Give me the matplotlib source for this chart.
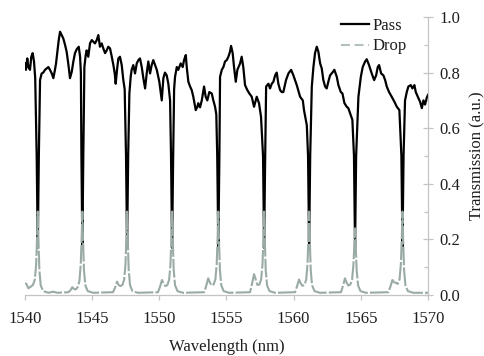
import matplotlib
matplotlib.use("Agg")
import matplotlib.pyplot as plt
from matplotlib.ticker import MultipleLocator
from matplotlib.lines import Line2D

plt.rcParams['font.family'] = ['Liberation Serif', 'DejaVu Serif']

# ---- Pass (through-port) spectrum ----
pass_wl = [
    1540.00, 1540.07, 1540.17, 1540.25, 1540.37, 1540.47, 1540.57, 1540.67, 1540.76,
    1540.87, 1540.95, 1541.03,
    1541.12, 1541.24, 1541.36, 1541.49, 1541.61, 1541.74, 1541.86, 1541.99, 1542.11,
    1542.23, 1542.31, 1542.41, 1542.51, 1542.61, 1542.73, 1542.85, 1542.98, 1543.10,
    1543.22, 1543.35, 1543.48, 1543.60, 1543.72, 1543.85, 1544.00, 1544.10, 1544.16,
    1544.20, 1544.27, 1544.34,
    1544.42, 1544.52, 1544.59, 1544.71, 1544.84, 1544.97, 1545.09, 1545.21, 1545.34,
    1545.46, 1545.58, 1545.71, 1545.83, 1545.96, 1546.08, 1546.20, 1546.33, 1546.46,
    1546.58, 1546.68, 1546.75, 1546.85, 1546.95, 1547.07, 1547.20, 1547.32, 1547.42,
    1547.52, 1547.60, 1547.68,
    1547.77, 1547.87, 1547.94, 1548.06, 1548.19, 1548.32, 1548.44, 1548.56, 1548.69,
    1548.81, 1548.94, 1549.06, 1549.18, 1549.31, 1549.43, 1549.55, 1549.68, 1549.81,
    1549.90, 1550.00, 1550.18, 1550.30, 1550.42, 1550.55, 1550.67, 1550.80,
    1550.87, 1550.95, 1551.03,
    1551.10, 1551.17, 1551.30, 1551.41, 1551.59, 1551.74, 1551.84, 1551.97, 1552.04,
    1552.16, 1552.29, 1552.41, 1552.53, 1552.71, 1552.83, 1552.90, 1553.03, 1553.16,
    1553.33, 1553.45, 1553.57, 1553.72, 1553.90, 1554.02, 1554.15, 1554.24,
    1554.31, 1554.39, 1554.47,
    1554.52, 1554.65, 1554.77, 1554.89, 1555.02, 1555.14, 1555.26, 1555.34, 1555.46,
    1555.56, 1555.69, 1555.81, 1556.01, 1556.13, 1556.25, 1556.38, 1556.55, 1556.70,
    1556.88, 1557.05, 1557.25, 1557.42, 1557.57,
    1557.72, 1557.80, 1557.88,
    1557.95, 1558.12, 1558.24, 1558.37, 1558.49, 1558.62, 1558.74, 1558.86, 1558.99,
    1559.11, 1559.23, 1559.43, 1559.61, 1559.81, 1559.98, 1560.23, 1560.48, 1560.68,
    1560.77, 1560.98,
    1561.07, 1561.15, 1561.23,
    1561.35, 1561.47, 1561.59, 1561.72, 1561.84, 1561.97, 1562.09, 1562.21, 1562.34,
    1562.46, 1562.58, 1562.71, 1562.88, 1563.03, 1563.21, 1563.33, 1563.51, 1563.63,
    1563.78, 1563.95, 1564.07, 1564.20, 1564.37,
    1564.49, 1564.57, 1564.65,
    1564.82, 1565.00, 1565.14, 1565.32, 1565.44, 1565.61, 1565.81, 1565.99, 1566.14,
    1566.26, 1566.36, 1566.51, 1566.68, 1566.81, 1566.93, 1567.10, 1567.30, 1567.50,
    1567.68, 1567.87,
    1568.02, 1568.10, 1568.18,
    1568.29, 1568.42, 1568.54, 1568.72, 1568.84, 1568.99, 1569.09, 1569.24, 1569.41,
    1569.54, 1569.66, 1569.78, 1569.91, 1570.00,
]
pass_tr = [
    0.833, 0.810, 0.851, 0.820, 0.810, 0.857, 0.870, 0.840, 0.780,
    0.500, 0.170, 0.500,
    0.773, 0.797, 0.800, 0.810, 0.815, 0.820, 0.810, 0.797, 0.780,
    0.810, 0.833, 0.875, 0.917, 0.947, 0.935, 0.923, 0.900, 0.875,
    0.833, 0.780, 0.803, 0.840, 0.870, 0.884, 0.893, 0.857, 0.800,
    0.500, 0.170, 0.500,
    0.820, 0.863, 0.880, 0.857, 0.905, 0.917, 0.911, 0.905, 0.917,
    0.935, 0.893, 0.905, 0.887, 0.870, 0.880, 0.893, 0.887, 0.857,
    0.827, 0.797, 0.760, 0.810, 0.851, 0.857, 0.827, 0.773, 0.740,
    0.500, 0.170, 0.500,
    0.725, 0.786, 0.810, 0.827, 0.797, 0.833, 0.845, 0.851, 0.820,
    0.780, 0.743, 0.797, 0.840, 0.797, 0.827, 0.845, 0.827, 0.810,
    0.790, 0.767, 0.700, 0.780, 0.800, 0.790, 0.760, 0.700,
    0.500, 0.170, 0.500,
    0.740, 0.785, 0.820, 0.810, 0.833, 0.820, 0.845, 0.863, 0.820,
    0.767, 0.750, 0.737, 0.713, 0.665, 0.677, 0.690, 0.675, 0.700,
    0.750, 0.713, 0.700, 0.730, 0.725, 0.700, 0.677, 0.650,
    0.500, 0.170, 0.500,
    0.785, 0.810, 0.820, 0.840, 0.845, 0.857, 0.875, 0.896, 0.870,
    0.820, 0.767, 0.810, 0.833, 0.857, 0.820, 0.755, 0.737, 0.725,
    0.713, 0.677, 0.713, 0.690, 0.641,
    0.500, 0.170, 0.500,
    0.750, 0.760, 0.743, 0.760, 0.767, 0.790, 0.800, 0.760, 0.737,
    0.730, 0.730, 0.773, 0.797, 0.810, 0.790, 0.755, 0.713, 0.700,
    0.665, 0.610,
    0.500, 0.170, 0.500,
    0.750, 0.820, 0.870, 0.893, 0.875, 0.833, 0.815, 0.773, 0.750,
    0.743, 0.767, 0.790, 0.800, 0.810, 0.785, 0.755, 0.730, 0.725,
    0.690, 0.677, 0.672, 0.654, 0.630,
    0.500, 0.170, 0.500,
    0.713, 0.785, 0.820, 0.840, 0.848, 0.827, 0.797, 0.773, 0.790,
    0.820, 0.827, 0.797, 0.790, 0.773, 0.750, 0.730, 0.713, 0.695,
    0.677, 0.665,
    0.500, 0.170, 0.500,
    0.700, 0.730, 0.750, 0.755, 0.743, 0.755, 0.730, 0.713, 0.695,
    0.672, 0.700, 0.685, 0.710, 0.720,
]

# ---- Drop-port spectrum ----
drop_wl = [
    1540.00, 1540.10, 1540.25, 1540.43, 1540.59, 1540.73, 1540.83, 1540.90, 1540.95,
    1541.00, 1541.07, 1541.17, 1541.35, 1541.75, 1542.10, 1542.40,
    1543.22, 1543.37, 1543.52, 1543.64, 1543.77, 1543.92, 1544.05, 1544.15, 1544.22,
    1544.27, 1544.32, 1544.39, 1544.49, 1544.67, 1545.07, 1545.90,
    1546.55, 1546.70, 1546.85, 1546.97, 1547.10, 1547.25, 1547.38, 1547.48, 1547.55,
    1547.60, 1547.65, 1547.72, 1547.82, 1548.00, 1548.40, 1549.20,
    1549.90, 1550.05, 1550.20, 1550.32, 1550.45, 1550.60, 1550.73, 1550.83, 1550.90,
    1550.95, 1551.00, 1551.07, 1551.17, 1551.35, 1551.75, 1552.60,
    1553.34, 1553.49, 1553.64, 1553.76, 1553.89, 1554.04, 1554.17, 1554.27, 1554.34,
    1554.39, 1554.44, 1554.51, 1554.61, 1554.79, 1555.19, 1556.00,
    1556.75, 1556.90, 1557.05, 1557.17, 1557.30, 1557.45, 1557.58, 1557.68, 1557.75,
    1557.80, 1557.85, 1557.92, 1558.02, 1558.20, 1558.60, 1559.40,
    1560.10, 1560.25, 1560.40, 1560.52, 1560.65, 1560.80, 1560.93, 1561.03, 1561.10,
    1561.15, 1561.20, 1561.27, 1561.37, 1561.55, 1561.95, 1562.80,
    1563.52, 1563.67, 1563.82, 1563.94, 1564.07, 1564.22, 1564.35, 1564.45, 1564.52,
    1564.57, 1564.62, 1564.69, 1564.79, 1564.97, 1565.37, 1566.20,
    1567.05, 1567.20, 1567.35, 1567.47, 1567.60, 1567.75, 1567.88, 1567.98, 1568.05,
    1568.10, 1568.15, 1568.22, 1568.32, 1568.50, 1568.90, 1569.50, 1570.00,
]
drop_tr = [
    0.043, 0.040, 0.024, 0.030, 0.036, 0.055, 0.110, 0.210, 0.300,
    0.200, 0.090, 0.035, 0.014, 0.008, 0.012, 0.008,
    0.010, 0.016, 0.028, 0.022, 0.020, 0.028, 0.050, 0.110, 0.210,
    0.300, 0.200, 0.090, 0.035, 0.014, 0.008, 0.009,
    0.010, 0.026, 0.048, 0.036, 0.032, 0.036, 0.055, 0.110, 0.210,
    0.300, 0.200, 0.090, 0.035, 0.014, 0.008, 0.009,
    0.010, 0.030, 0.054, 0.040, 0.032, 0.036, 0.055, 0.110, 0.210,
    0.300, 0.200, 0.090, 0.035, 0.014, 0.008, 0.009,
    0.010, 0.033, 0.060, 0.045, 0.034, 0.038, 0.056, 0.110, 0.210,
    0.300, 0.200, 0.090, 0.035, 0.014, 0.008, 0.009,
    0.010, 0.040, 0.075, 0.056, 0.036, 0.038, 0.056, 0.110, 0.210,
    0.300, 0.200, 0.090, 0.035, 0.014, 0.008, 0.009,
    0.010, 0.031, 0.056, 0.042, 0.033, 0.036, 0.055, 0.110, 0.210,
    0.300, 0.200, 0.090, 0.035, 0.014, 0.008, 0.009,
    0.010, 0.033, 0.060, 0.045, 0.034, 0.038, 0.056, 0.110, 0.190,
    0.240, 0.180, 0.090, 0.035, 0.014, 0.008, 0.009,
    0.010, 0.030, 0.054, 0.046, 0.044, 0.040, 0.056, 0.110, 0.210,
    0.300, 0.200, 0.090, 0.035, 0.014, 0.008, 0.008, 0.008,
]

x_ticks = [1540, 1545, 1550, 1555, 1560, 1565, 1570]
y_ticks = [0.0, 0.2, 0.4, 0.6, 0.8, 1.0]
series_names = ['Pass', 'Drop']

AX_COL = '#c4c4c4'
TXT_COL = '#1e1e1e'
DROP_COL = '#9aaba5'
DROP_LEG_COL = '#b4c0bc'

fig = plt.figure(figsize=(4.85, 3.56), dpi=100)
ax = fig.add_axes([25 / 485, 61 / 356, 403 / 485, 278 / 356])

ax.plot(pass_wl, pass_tr, color='black', lw=1.6, zorder=2)
ax.plot(drop_wl, drop_tr, color=DROP_COL, lw=1.5, linestyle=(0, (9, 1.0)),
        zorder=3)

ax.set_xlim(1540, 1570)
ax.set_ylim(0, 1.0)

for s in ('left', 'top'):
    ax.spines[s].set_visible(False)
for s in ('bottom', 'right'):
    ax.spines[s].set_color(AX_COL)
    ax.spines[s].set_linewidth(0.9)

ax.set_xticks(x_ticks)
ax.set_xticklabels([str(t) for t in x_ticks])
ax.yaxis.tick_right()
ax.yaxis.set_label_position('right')
ax.set_yticks(y_ticks)
ax.set_yticklabels(['%.1f' % t for t in y_ticks])
ax.yaxis.set_minor_locator(MultipleLocator(0.1))

ax.tick_params(axis='x', direction='out', length=3.5, width=0.9, color=AX_COL,
               labelsize=12, labelcolor=TXT_COL, pad=8)
ax.tick_params(axis='y', which='major', direction='inout', length=6.5, width=0.9,
               color=AX_COL, labelsize=12, labelcolor=TXT_COL, pad=5)
ax.tick_params(axis='y', which='minor', direction='in', length=3, width=0.9,
               color=AX_COL)

ax.set_xlabel('Wavelength (nm)', fontsize=12, color=TXT_COL, labelpad=9)
ax.set_ylabel('Transmission (a.u.)', fontsize=12, color=TXT_COL)
ax.yaxis.set_label_coords((469 - 25) / 403, 0.5)

handles = [
    Line2D([], [], color='black', lw=1.6),
    Line2D([], [], color=DROP_LEG_COL, lw=1.5, linestyle=(0, (4.3, 2.2))),
]
leg = ax.legend(handles, series_names, loc='upper right',
                bbox_to_anchor=(407 / 485, 1 - 17.5 / 356),
                bbox_transform=fig.transFigure, frameon=False, fontsize=12,
                handlelength=1.65, handletextpad=0.25, labelspacing=0.3,
                borderpad=0, borderaxespad=0)
for t in leg.get_texts():
    t.set_color(TXT_COL)

fig.savefig('out.png', dpi=100)
